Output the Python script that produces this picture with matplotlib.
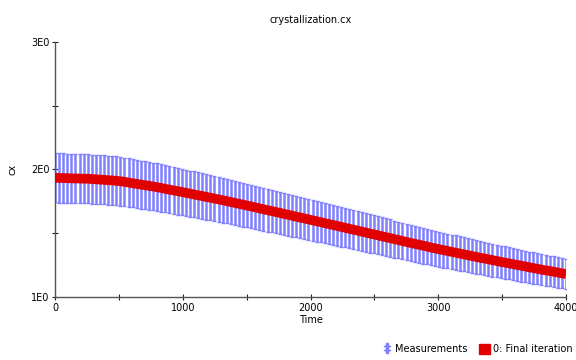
import matplotlib
matplotlib.use("Agg")
import matplotlib.pyplot as plt
from matplotlib.patches import Patch
from matplotlib.lines import Line2D
import numpy as np

# Measurement times (s) and measured cx values
time = np.arange(0, 4001, 32)
cx_measured = [
    1.935, 1.934, 1.933, 1.932, 1.931, 1.930, 1.929, 1.928, 1.928, 1.925,
    1.923, 1.921, 1.919, 1.916, 1.914, 1.911, 1.908, 1.903, 1.898, 1.892,
    1.887, 1.882, 1.877, 1.872, 1.867, 1.861, 1.855, 1.848, 1.842, 1.836,
    1.830, 1.824, 1.817, 1.811, 1.804, 1.798, 1.792, 1.785, 1.779, 1.772,
    1.766, 1.759, 1.752, 1.745, 1.738, 1.731, 1.724, 1.717, 1.710, 1.703,
    1.695, 1.688, 1.681, 1.674, 1.667, 1.660, 1.652, 1.645, 1.638, 1.630,
    1.623, 1.616, 1.609, 1.601, 1.594, 1.587, 1.579, 1.572, 1.565, 1.558,
    1.550, 1.543, 1.535, 1.528, 1.521, 1.513, 1.506, 1.498, 1.491, 1.484,
    1.476, 1.469, 1.462, 1.454, 1.447, 1.439, 1.432, 1.424, 1.417, 1.410,
    1.403, 1.396, 1.388, 1.381, 1.374, 1.368, 1.361, 1.354, 1.348, 1.341,
    1.334, 1.328, 1.321, 1.315, 1.308, 1.302, 1.296, 1.289, 1.283, 1.276,
    1.270, 1.264, 1.258, 1.252, 1.246, 1.240, 1.233, 1.227, 1.221, 1.215,
    1.209, 1.204, 1.198, 1.192, 1.186, 1.180,
]
# Relative measurement uncertainty
rel_error = 0.10
# Model output of the final iteration
cx_fit = list(cx_measured)

y_ticks = [1.0, 1.5, 2.0, 2.5, 3.0]
y_tick_labels = ["1E0", "", "2E0", "", "3E0"]
x_ticks = [0, 500, 1000, 1500, 2000, 2500, 3000, 3500, 4000]
x_tick_labels = ["0", "", "1000", "", "2000", "", "3000", "", "4000"]

meas_color = "#8080ff"
fit_color = "#e00000"

fig = plt.figure(figsize=(5.76, 3.6), dpi=100)
ax = fig.add_axes([55 / 576, 1 - 297 / 360, 511 / 576, 255 / 360])

cx_arr = np.array(cx_measured)
ax.errorbar(time, cx_arr, yerr=rel_error * cx_arr, fmt="none",
            ecolor=meas_color, elinewidth=1.8, capsize=1.6,
            capthick=1.0, zorder=2)
ax.plot(time, cx_fit, color=fit_color, linewidth=7.0,
        solid_capstyle="butt", zorder=3)

ax.set_xlim(0, 4000)
ax.set_ylim(1.0, 3.0)
ax.set_xticks(x_ticks)
ax.set_xticklabels(x_tick_labels)
ax.set_yticks(y_ticks)
ax.set_yticklabels(y_tick_labels)

for side in ("top", "right"):
    ax.spines[side].set_visible(False)
for side in ("left", "bottom"):
    ax.spines[side].set_color("#555555")
    ax.spines[side].set_linewidth(1.0)
ax.tick_params(direction="inout", length=5, width=0.8, labelsize=7,
               color="#222222", pad=1.5)

ax.set_title("crystallization.cx", fontsize=7, pad=14)
ax.set_xlabel("Time", fontsize=7, labelpad=2)
ax.set_ylabel("cx", fontsize=7, labelpad=10)

handles = [
    Line2D([], [], linestyle="None", marker="$\u2021$", markersize=7,
           color=meas_color),
    Patch(facecolor=fit_color, edgecolor=fit_color),
]
labels = ["Measurements", "0: Final iteration"]
fig.legend(handles, labels, loc="lower left",
           bbox_to_anchor=(376 / 576, 0.0), ncol=2, frameon=False,
           fontsize=7, handlelength=1.1, handleheight=1.1,
           handletextpad=0.3, columnspacing=1.2, borderaxespad=0.2)

fig.savefig("out.png", dpi=100)
